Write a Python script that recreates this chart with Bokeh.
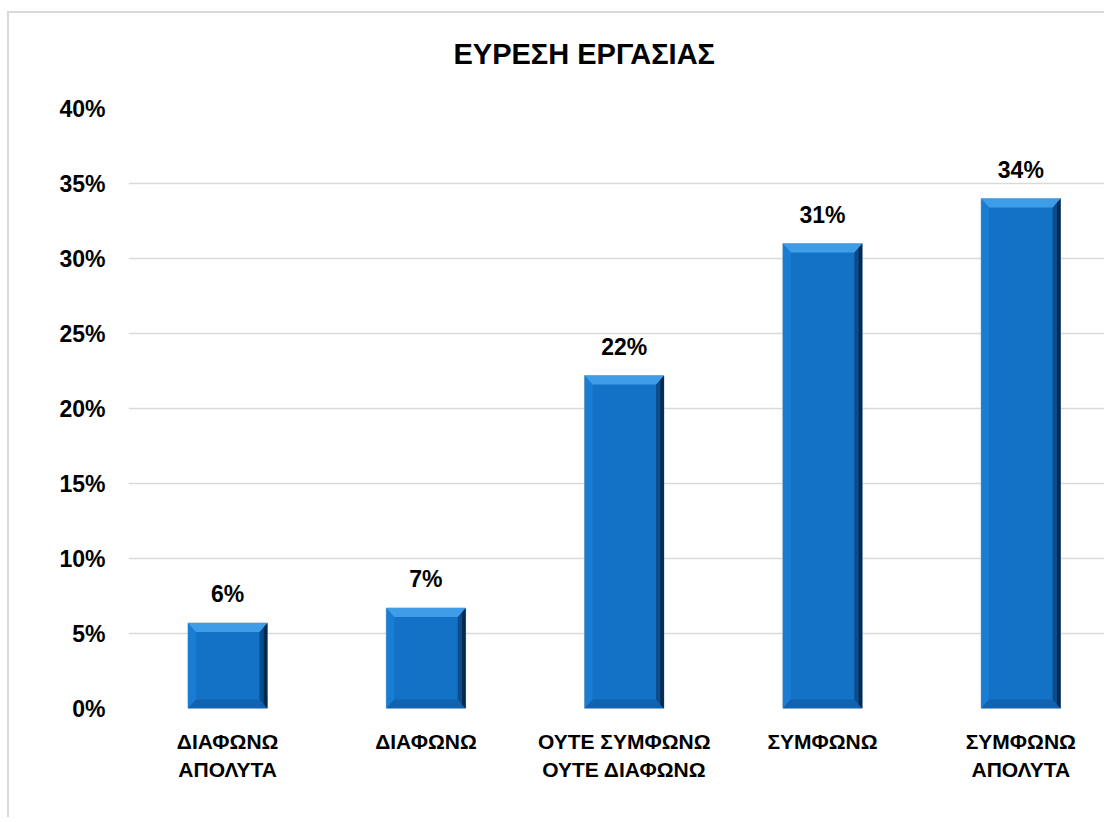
import numpy as np
from bokeh.plotting import figure
from bokeh.models import Range1d, FixedTicker, PrintfTickFormatter, ColumnDataSource, LabelSet
from bokeh.core.properties import value
from bokeh.embed import file_html
from bokeh.resources import INLINE

title_text = "ΕΥΡΕΣΗ ΕΡΓΑΣΙΑΣ"
categories = ["ΔΙΑΦΩΝΩ\nΑΠΟΛΥΤΑ", "ΔΙΑΦΩΝΩ", "ΟΥΤΕ ΣΥΜΦΩΝΩ\nΟΥΤΕ ΔΙΑΦΩΝΩ", "ΣΥΜΦΩΝΩ", "ΣΥΜΦΩΝΩ\nΑΠΟΛΥΤΑ"]
values = [5.7, 6.7, 22.2, 31.0, 34.0]
y_ticks = [0, 5, 10, 15, 20, 25, 30, 35, 40]

FONT = "Liberation Sans"

p = figure(width=1097, height=806, output_backend="svg", toolbar_location=None,
           x_range=Range1d(-0.5, 4.432), y_range=Range1d(0, 40),
           min_border_left=119, min_border_right=0, min_border_top=95, min_border_bottom=111)
p.styles = {"margin-left": "7px", "margin-top": "11px",
            "border-left": "2px solid #d9d9d9", "border-top": "2px solid #d9d9d9"}
p.outline_line_color = None
p.background_fill_color = "white"
p.border_fill_color = "white"

p.title.text = title_text
p.title.text_font = FONT
p.title.text_font_size = "29px"
p.title.text_font_style = "bold"
p.title.text_color = "#000000"
p.title.align = "left"
p.title.offset = 325
p.title.standoff = 38
p.title.padding = dict(top=0, right=0, bottom=20, left=0)

xs_pos = np.arange(len(values))
w = 0.4
dx = 0.04
dy = 0.6

# bar body
p.vbar(x=xs_pos, top=values, width=w, bottom=0, fill_color="#1472c6", line_color="#9fb3c8", line_width=1)

top_x, top_y, right_x, right_y, right2_x, right2_y, left_x, left_y, bot_x, bot_y = ([] for _ in range(10))
for xc, v in zip(xs_pos, values):
    x0, x1 = xc - w / 2, xc + w / 2
    top_x.append([x0, x1, x1 - dx, x0 + dx]); top_y.append([v, v, v - dy, v - dy])
    right_x.append([x1 - dx, x1, x1, x1 - dx]); right_y.append([v - dy, v, 0, dy])
    right2_x.append([x1 - dx * 0.45, x1, x1, x1 - dx * 0.45]); right2_y.append([v - dy * 0.45, v, 0, dy * 0.45])
    left_x.append([x0, x0 + dx, x0 + dx, x0]); left_y.append([v, v - dy, dy, 0])
    bot_x.append([x0, x0 + dx, x1 - dx, x1]); bot_y.append([0, dy, dy, 0])

p.patches(left_x, left_y, fill_color="#1a7dd4", line_color=None)
p.patches(bot_x, bot_y, fill_color="#0f63b0", line_color=None)
p.patches(right_x, right_y, fill_color="#0b4d8c", line_color=None)
p.patches(right2_x, right2_y, fill_color="#062a4d", line_color=None)
p.patches(top_x, top_y, fill_color="#3f9de8", line_color=None)

# value labels
src = ColumnDataSource(dict(x=xs_pos, y=values, t=[f"{round(v)}%" for v in values]))
labels = LabelSet(x="x", y="y", text="t", source=src, y_offset=21, text_align="center",
                  text_baseline="alphabetic", text_font=value(FONT), text_font_size="23px",
                  text_font_style="bold", text_color="#000000")
p.add_layout(labels)

# axes
p.xaxis.ticker = FixedTicker(ticks=list(xs_pos))
p.xaxis.major_label_overrides = {int(i): c for i, c in zip(xs_pos, categories)}
p.xaxis.axis_line_color = None
p.xaxis.major_tick_line_color = None
p.xaxis.minor_tick_line_color = None
p.xaxis.major_label_standoff = 15
p.xaxis.major_label_text_font = FONT
p.xaxis.major_label_text_font_size = "21px"
p.xaxis.major_label_text_font_style = "bold"
p.xaxis.major_label_text_color = "#000000"
p.xaxis.major_label_text_line_height = 1.25

p.yaxis.ticker = FixedTicker(ticks=y_ticks)
p.yaxis.formatter = PrintfTickFormatter(format="%d%%")
p.yaxis.axis_line_color = None
p.yaxis.major_tick_line_color = None
p.yaxis.minor_tick_line_color = None
p.yaxis.major_label_standoff = 17
p.yaxis.major_label_text_font = FONT
p.yaxis.major_label_text_font_size = "23px"
p.yaxis.major_label_text_font_style = "bold"
p.yaxis.major_label_text_color = "#000000"

p.xgrid.grid_line_color = None
p.ygrid.grid_line_color = "#d9d9d9"
p.ygrid.grid_line_width = 1.5

open("out.html", "w").write(file_html(p, INLINE))
